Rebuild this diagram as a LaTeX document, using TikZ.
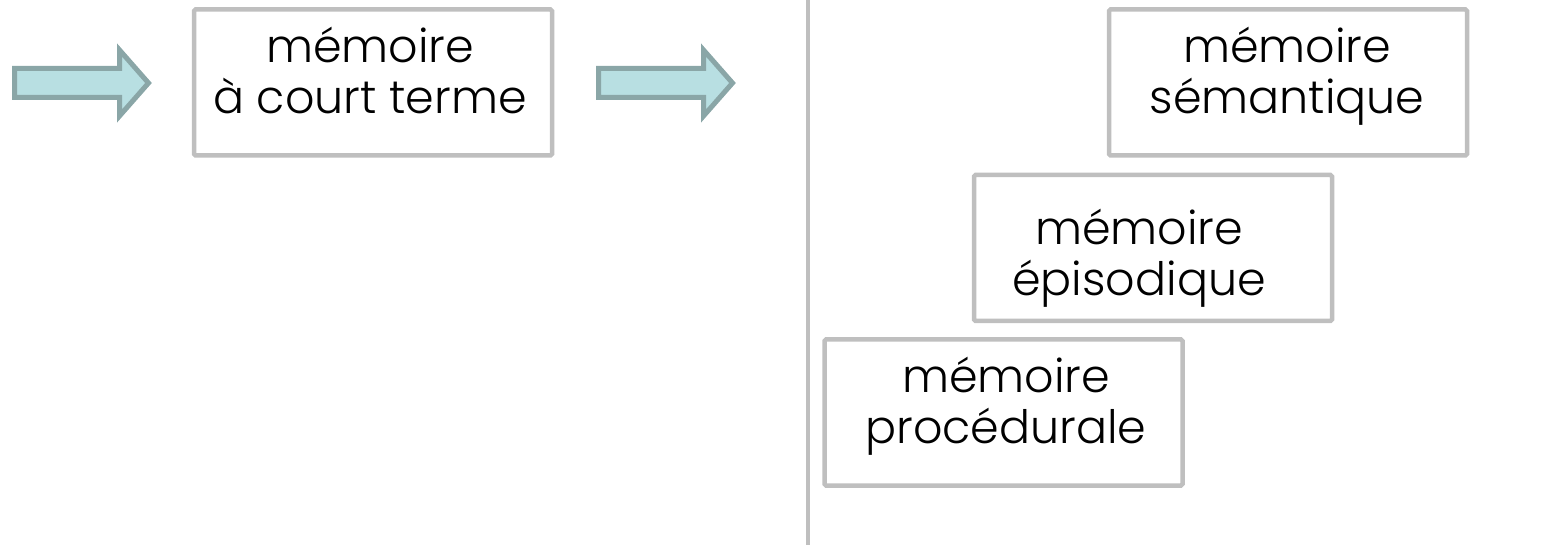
\documentclass[tikz,border=0pt]{standalone}
\usepackage{fontspec}
\setmainfont{Poppins}[UprightFont=* Light]
\definecolor{boxgray}{HTML}{BFBFBF}
\definecolor{arrowfill}{HTML}{B8DFE2}
\definecolor{arrowedge}{HTML}{8AA6A7}
\begin{document}
\begin{tikzpicture}[x=1pt,y=-1pt,
  box/.style={draw=boxgray, line width=4.5pt, rounded corners=1.5pt,
    minimum width=358pt, minimum height=146pt, inner sep=0pt},
  lbl/.style={align=center, inner sep=0pt, text=black,
    font=\fontsize{46}{51}\selectfont},
  blockarrow/.style={draw=arrowedge, fill=arrowfill, line width=5pt, line join=miter},
  divider/.style={draw=boxgray, line width=4pt}]
\useasboundingbox (0,0) rectangle (1545,545);

% block arrows
\path[blockarrow] (14.5,68.5) -- (119.5,68.5) -- (119.5,50) -- (148.5,83)
  -- (119.5,116) -- (119.5,97.5) -- (14.5,97.5) -- cycle;
\begin{scope}[xshift=584pt]
\path[blockarrow] (14.5,68.5) -- (119.5,68.5) -- (119.5,50) -- (148.5,83)
  -- (119.5,116) -- (119.5,97.5) -- (14.5,97.5) -- cycle;
\end{scope}

% boxes
\node[box] (bct)  at (373,82.5)  {};
\node[box] (bsem) at (1288,82.5) {};
\node[box] (bepi) at (1153,248)  {};
\node[box] (bpro) at (1003.5,412.5) {};

% labels
\node[lbl] (tct)  at (370,78.3)   {\strut mémoire\\\strut à court terme};
\node[lbl] (tsem) at (1287,78.3)  {\strut mémoire\\\strut sémantique};
\node[lbl] (tepi) at (1139,260.3) {\strut mémoire\\\strut épisodique};
\node[lbl] (tpro) at (1006,407.3) {\strut mémoire\\\strut procédurale};

% divider
\coordinate (vtop) at (808,0);
\coordinate (vbot) at (808,545);
\draw[divider] (vtop) -- (vbot);
\end{tikzpicture}
\end{document}
